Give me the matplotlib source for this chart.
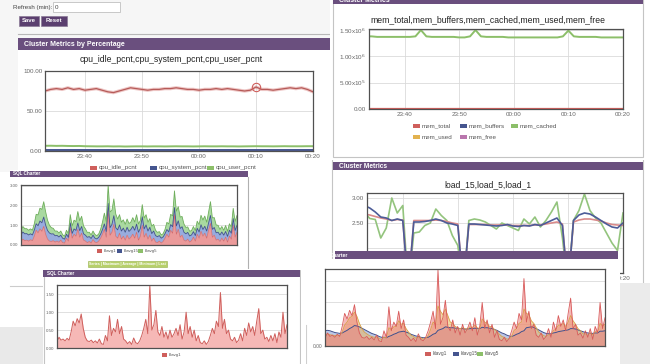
import numpy as np
import matplotlib.pyplot as plt
from matplotlib.patches import Rectangle

plt.rcParams['font.family'] = ['Liberation Sans', 'DejaVu Sans']

# ---- data ----
minutes = list(range(-27, 21))          # 0 = 00:00
time_ticks = [-20, -10, 0, 10, 20]
time_labels = ['23:40', '23:50', '00:00', '00:10', '00:20']

cpu_idle = [75, 77, 78, 77, 79, 77, 78, 76, 77, 78,
            76, 74, 73, 75, 77, 79, 78, 77, 76, 77,
            77, 78, 78, 79, 78, 77, 77, 76, 77, 77,
            78, 77, 78, 77, 76, 75, 76, 80, 77, 77,
            76, 77, 78, 79, 78, 79, 77, 74]
cpu_system = [1.2] * 48
cpu_user = [6.5, 6.6, 6.4, 6.5, 6.3, 6.2, 6.3, 6.0, 5.9, 5.8,
            5.8, 5.9, 5.7, 5.8, 5.6, 5.7, 5.8, 5.8, 5.7, 5.8,
            5.8, 5.7, 5.8, 5.9, 5.8, 5.8, 5.7, 5.8, 5.9, 5.8,
            5.8, 5.9, 5.8, 5.8, 5.7, 5.8, 5.9, 6.0, 5.9, 5.9,
            5.8, 5.9, 6.0, 5.9, 5.9, 5.9, 6.0, 6.0]

mem_cached = [1.38e6, 1.38e6, 1.37e6, 1.37e6, 1.37e6, 1.37e6, 1.37e6, 1.37e6, 1.37e6, 1.38e6,
              1.50e6, 1.38e6,
              1.37e6, 1.37e6, 1.37e6, 1.37e6, 1.37e6, 1.36e6, 1.36e6, 1.38e6,
              1.50e6, 1.38e6,
              1.37e6, 1.37e6, 1.37e6, 1.37e6, 1.36e6, 1.36e6, 1.36e6, 1.36e6,
              1.36e6, 1.36e6, 1.36e6, 1.36e6, 1.36e6, 1.36e6, 1.38e6,
              1.49e6, 1.38e6,
              1.37e6, 1.37e6, 1.37e6, 1.37e6, 1.36e6, 1.36e6, 1.36e6, 1.36e6, 1.36e6]
mem_total = [0.0] * 48

load_1 = [2.72, 2.59, 2.57, 2.20, 2.40, 3.00, 2.70, 2.85, 1.20, 2.30,
          2.32, 2.45, 2.50, 2.78, 2.65, 2.55, 2.25, 2.05, 1.20, 2.55,
          2.58, 2.56, 2.52, 2.45, 2.38, 2.50, 2.45, 2.40, 2.35, 2.58,
          2.48, 2.62, 2.42, 2.55, 2.72, 2.92, 2.20, 1.20, 2.55, 2.75,
          3.08, 2.75, 2.60, 2.50, 2.30, 2.10, 1.95, 2.70]
load_5 = [2.85, 2.80, 2.72, 2.62, 2.60, 2.55, 2.58, 2.55, 1.20, 2.52,
          2.52, 2.53, 2.55, 2.58, 2.55, 2.50, 2.48, 2.45, 1.20, 2.48,
          2.48, 2.47, 2.46, 2.45, 2.44, 2.45, 2.47, 2.44, 2.43, 2.45,
          2.44, 2.47, 2.45, 2.50, 2.55, 2.60, 2.45, 1.20, 2.55, 2.66,
          2.70, 2.68, 2.62, 2.55, 2.48, 2.42, 2.40, 2.50]
load_15 = [2.68, 2.66, 2.63, 2.60, 2.58, 2.55, 2.57, 2.56, 1.20, 2.55,
           2.55, 2.55, 2.55, 2.56, 2.55, 2.53, 2.50, 2.48, 1.20, 2.47,
           2.47, 2.47, 2.47, 2.46, 2.46, 2.46, 2.46, 2.45, 2.45, 2.45,
           2.45, 2.46, 2.46, 2.48, 2.50, 2.52, 2.48, 1.20, 2.52, 2.56,
           2.58, 2.58, 2.56, 2.54, 2.50, 2.47, 2.46, 2.45]

klavg1 = [0.18, 0.30, 0.22, 0.25, 0.20, 0.27, 0.22, 0.45, 0.75, 0.62,
          0.82, 0.70, 0.95, 0.55, 0.30, 0.20, 0.18, 0.22, 0.15, 0.20,
          0.14, 0.25, 0.12, 0.10, 0.35, 0.20, 0.90, 0.35, 0.55, 0.45,
          0.80, 0.40, 0.60, 0.25, 0.20, 0.12, 0.18, 0.10, 0.28, 0.15,
          0.12, 0.20, 0.35, 0.55, 0.80, 0.40, 1.75, 0.50, 0.65, 1.05,
          0.45, 0.35, 0.60, 0.30, 0.45, 0.25, 0.50, 0.30, 0.40, 0.55,
          0.35, 0.65, 0.25, 0.45, 1.00, 0.40, 0.60, 0.30, 0.50, 0.20,
          0.35, 0.15, 0.12, 0.20, 0.10, 0.18, 0.35, 0.55, 0.40, 0.75,
          0.60, 1.55, 0.55, 0.80, 0.40, 0.50, 0.25, 0.20, 0.30, 0.15,
          0.22, 0.40, 0.20, 0.55, 0.35, 0.70, 0.45, 0.60, 0.35, 0.75,
          1.10, 0.40, 0.50, 0.25, 0.30, 0.18, 0.35, 0.20, 0.40, 0.15,
          0.45, 0.30, 1.00, 0.40, 0.65]
klavg5 = [0.25, 0.28, 0.26, 0.25, 0.24, 0.25, 0.24,
          0.32, 0.48, 0.55, 0.65, 0.68, 0.78, 0.68, 0.52,
          0.40, 0.32, 0.28, 0.24, 0.22, 0.20, 0.21, 0.18, 0.15, 0.20, 0.19,
          0.42, 0.38, 0.44, 0.45, 0.58, 0.50, 0.52, 0.40,
          0.32, 0.25, 0.22, 0.18, 0.21, 0.19, 0.16, 0.17, 0.24,
          0.38, 0.55, 0.50, 0.92, 0.80, 0.72, 0.85, 0.70,
          0.55, 0.52, 0.45, 0.42, 0.40, 0.42, 0.40, 0.38, 0.44, 0.42,
          0.48, 0.42, 0.40, 0.62, 0.55, 0.52, 0.45, 0.44, 0.38, 0.34,
          0.27, 0.22, 0.20, 0.16, 0.16, 0.22,
          0.36, 0.40, 0.52, 0.55, 0.85, 0.75, 0.72, 0.58, 0.52,
          0.42, 0.32, 0.28, 0.24, 0.22, 0.26, 0.25,
          0.36, 0.38, 0.48, 0.48, 0.52, 0.45, 0.55, 0.70, 0.58,
          0.50, 0.40, 0.35, 0.28, 0.28, 0.25, 0.30, 0.26, 0.33, 0.32, 0.52, 0.46, 0.50]
klavg15 = [0.35, 0.36, 0.35, 0.33, 0.31, 0.30, 0.29,
           0.30, 0.33, 0.36, 0.40, 0.43, 0.47, 0.46, 0.44,
           0.41, 0.38, 0.35, 0.32, 0.29, 0.27, 0.25, 0.22, 0.20, 0.20, 0.19,
           0.22, 0.24, 0.27, 0.29, 0.32, 0.33, 0.34, 0.32,
           0.30, 0.27, 0.25, 0.23, 0.22, 0.20, 0.19, 0.19, 0.20,
           0.23, 0.27, 0.29, 0.36, 0.38, 0.40, 0.44, 0.43,
           0.42, 0.42, 0.41, 0.41, 0.40, 0.40, 0.39, 0.39, 0.40, 0.40,
           0.41, 0.40, 0.40, 0.43, 0.42, 0.42, 0.41, 0.40, 0.38, 0.36,
           0.33, 0.30, 0.28, 0.25, 0.23, 0.22,
           0.24, 0.27, 0.29, 0.33, 0.35, 0.42, 0.43, 0.44, 0.43,
           0.40, 0.37, 0.34, 0.31, 0.29, 0.28, 0.28,
           0.30, 0.31, 0.33, 0.34, 0.35, 0.36, 0.37, 0.40, 0.40,
           0.39, 0.37, 0.35, 0.33, 0.31, 0.30, 0.29, 0.29, 0.30, 0.30, 0.34, 0.34, 0.35]
samples = np.arange(len(klavg1))

# ---- colours ----
PURPLE = '#6a4f7e'
RED, BLUE, GREEN = '#cf5f5c', '#45558f', '#8cbf69'
YELLOW, PINK = '#e2b24f', '#b976ad'
GRIDC = '#dadada'

W, H = 650, 364
fig = plt.figure(figsize=(6.5, 3.64), dpi=100)
fig.patch.set_facecolor('white')


def box(x0, y0, x1, y1):
    return [x0 / W, 1 - y1 / H, (x1 - x0) / W, (y1 - y0) / H]


def panel(x0, y0, x1, y1, fc='white'):
    ax = fig.add_axes(box(x0, y0, x1, y1))
    ax.set_xlim(x0, x1)
    ax.set_ylim(y1, y0)
    ax.set_facecolor(fc)
    ax.set_xticks([])
    ax.set_yticks([])
    for s in ax.spines.values():
        s.set_visible(False)
    return ax


def header(ax, x0, y0, x1, y1, label, fs=5, tx=None, ty=None):
    r = Rectangle((x0, y0), x1 - x0, y1 - y0, fc=PURPLE, ec='none')
    ax.add_patch(r)
    t = ax.text(x0 + 6 if tx is None else tx, (y0 + y1) / 2 if ty is None else ty,
                label, color='white', fontsize=fs, fontweight='bold', va='center')
    t.set_clip_path(r)


def chart(x0, y0, x1, y1, fs=4.5):
    ax = fig.add_axes(box(x0, y0, x1, y1))
    ax.set_facecolor('white')
    ax.tick_params(length=0, labelsize=fs, colors='#666666', pad=2)
    for s in ax.spines.values():
        s.set_color('#505050')
        s.set_linewidth(0.9)
    ax.grid(True, color=GRIDC, lw=0.6)
    ax.set_axisbelow(True)
    return ax


def legend_item(ax, x, y, color, label, fs=4.5, sw=7):
    ax.add_patch(Rectangle((x, y - sw * 0.35), sw, sw * 0.7, fc=color, ec='none'))
    ax.text(x + sw + 2, y, label, fontsize=fs, color='#555555', va='center')


# ---- top-left: cpu ----
p1 = panel(0, 0, 330, 172, fc='#f6f6f6')
p1.add_patch(Rectangle((18, 50), 312, 122, fc='white', ec='none'))
p1.plot([18, 330], [34, 34], color='#b8b8b8', lw=0.8)
p1.add_patch(Rectangle((53, 2), 67, 10, fc='white', ec='#c0c0c0', lw=0.6))
p1.text(55, 7.5, '0', fontsize=4.5, color='#444444', va='center')
p1.text(52, 7.5, 'Refresh (min):', fontsize=4.5, color='#444444', va='center', ha='right')
for bx0, bx1, lab in [(19, 39, 'Save'), (41, 67, 'Reset')]:
    p1.add_patch(Rectangle((bx0, 16), bx1 - bx0, 10, fc='#5b3f6f', ec='#8a7a96', lw=0.5))
    p1.text((bx0 + bx1) / 2, 21, lab, fontsize=4.3, color='white', fontweight='bold',
            ha='center', va='center')
header(p1, 18, 38, 330, 50, 'Cluster Metrics by Percentage', fs=5)
p1.text(171, 60, 'cpu_idle_pcnt,cpu_system_pcnt,cpu_user_pcnt', fontsize=6.2,
        ha='center', va='center', color='#222222')
legend_item(p1, 90, 168, RED, 'cpu_idle_pcnt')
legend_item(p1, 150, 168, BLUE, 'cpu_system_pcnt')
legend_item(p1, 207, 168, GREEN, 'cpu_user_pcnt')

ax1 = chart(45, 71, 313, 151)
ax1.plot(minutes, cpu_idle, color=RED, lw=2.4, alpha=0.35)
ax1.plot(minutes, cpu_idle, color='#b65a58', lw=0.9)
ax1.plot(minutes, cpu_user, color=GREEN, lw=1.4)
ax1.plot(minutes, cpu_system, color=BLUE, lw=1.4)
ax1.plot([10], [cpu_idle[37]], 'o', ms=6, mfc='none', mec=RED, mew=0.8)
ax1.set_xlim(-27, 20)
ax1.set_ylim(0, 100)
ax1.set_yticks([0, 50, 100], ['0.00', '50.00', '100.00'])
ax1.set_xticks(time_ticks, time_labels)

# ---- top-right: memory ----
p2 = panel(330, 0, 650, 160)
p2.add_patch(Rectangle((333, -2), 310, 159, fc='white', ec='#c4c4c4', lw=0.8))
header(p2, 333, -6, 643, 4, 'Cluster Metrics', fs=5, ty=0.5)
p2.text(488, 20, 'mem_total,mem_buffers,mem_cached,mem_used,mem_free', fontsize=6.2,
        ha='center', va='center', color='#222222')
legend_item(p2, 413, 126, RED, 'mem_total')
legend_item(p2, 460, 126, BLUE, 'mem_buffers')
legend_item(p2, 511, 126, GREEN, 'mem_cached')
legend_item(p2, 413, 137, YELLOW, 'mem_used')
legend_item(p2, 460, 137, PINK, 'mem_free')

ax2 = chart(369, 29, 623, 109)
ax2.plot(minutes, mem_cached, color=GREEN, lw=1.4)
ax2.plot(minutes, mem_total, color=RED, lw=1.6)
ax2.set_xlim(-26.5, 20)
ax2.set_ylim(0, 1.52e6)
ax2.set_yticks([0, 5e5, 1e6, 1.5e6],
               ['0.00', '5.00x10$^5$', '1.00x10$^6$', '1.50x10$^6$'])
ax2.set_xticks(time_ticks, time_labels)

# ---- right-middle: load ----
p4 = panel(330, 160, 650, 290)
p4.add_patch(Rectangle((332, 158), 311, 140, fc='white', ec='#c4c4c4', lw=0.8))
header(p4, 333, 162, 643, 170, 'Cluster Metrics', fs=4.8)
p4.text(488, 185, 'load_15,load_5,load_1', fontsize=6.2, ha='center', va='center',
        color='#222222')

ax4 = chart(367, 193, 623, 273)
ax4.plot(minutes, load_1, color='#93c47d', lw=1.2)
ax4.plot(minutes, load_15, color='#d98a8a', lw=1.2)
ax4.plot(minutes, load_5, color='#4c5c98', lw=1.2)
ax4.set_xlim(-26.5, 20)
ax4.set_ylim(1.5, 3.1)
ax4.set_yticks([2.0, 2.5, 3.0], ['', '2.50', '3.00'])
ax4.set_xticks(time_ticks, time_labels)

# ---- left-middle: SQL charter (stacked) ----
p3 = panel(10, 170, 250, 269)
header(p3, 10, 171, 248, 177, 'SQL Charter', fs=3.3, tx=13)
p3.plot([248, 248], [177, 269], color='#b0b0b0', lw=0.8)
legend_item(p3, 97, 251, RED, 'klavg1', fs=3.2, sw=5)
legend_item(p3, 117, 251, BLUE, 'klavg15', fs=3.2, sw=5)
legend_item(p3, 138, 251, GREEN, 'klavg5', fs=3.2, sw=5)
p3.add_patch(Rectangle((88, 261), 79, 6, fc='#b7d06a', ec='#97b04a', lw=0.4))
p3.text(127.5, 264, 'Series | Maximum | Average | Minimum | Last', fontsize=2.6,
        color='white', fontweight='bold', ha='center', va='center')

ax3 = chart(21, 185, 237, 245, fs=3.2)
ax3.stackplot(samples, klavg1, klavg15, klavg5,
              colors=['#eb9a9a', '#98acde', '#a9d9a0'], lw=0)
s1 = np.array(klavg1)
s2 = s1 + np.array(klavg15)
s3 = s2 + np.array(klavg5)
ax3.plot(samples, s1, color='#d56a6a', lw=0.5)
ax3.plot(samples, s2, color='#3f4f8c', lw=0.6)
ax3.plot(samples, s3, color='#6fae5c', lw=0.6)
ax3.set_xlim(0, len(samples) - 1)
ax3.set_ylim(0, 3.05)
ax3.set_yticks([0, 1, 2, 3], ['0.00', '1.00', '2.00', '3.00'])
ax3.set_xticks([])
ax3.grid(axis='x', visible=False)

# ---- bottom-left: SQL charter klavg1 ----
p0 = panel(0, 269, 43, 327)
p0.plot([10, 43], [286, 286], color='#cccccc', lw=0.8)
pg = panel(0, 327, 43, 364, fc='#e9e9e9')

p5 = panel(43, 270, 301, 364)
p5.add_patch(Rectangle((43.5, 270), 256.5, 100, fc='white', ec='#c4c4c4', lw=0.8))
header(p5, 43, 270, 300, 277, 'SQL Charter', fs=3.3, tx=47)
legend_item(p5, 162, 355, RED, 'klavg1', fs=3.2, sw=5)

ax5 = chart(57, 285, 287, 348, fs=3.2)
ax5.fill_between(samples, 0, klavg1, color='#f6b8b6', lw=0)
ax5.plot(samples, klavg1, color='#cf5f5c', lw=0.7)
ax5.set_xlim(0, len(samples) - 1)
ax5.set_ylim(0, 1.76)
ax5.set_yticks([0, 0.5, 1.0, 1.5], ['0.00', '0.50', '1.00', '1.50'])
ax5.set_xticks([])
ax5.grid(axis='x', visible=False)

# ---- bottom-right: SQL charter overlaid ----
p6 = panel(306, 251, 620, 364, fc='none')
p6.add_patch(Rectangle((306, 259), 314, 106, fc='white', ec='none'))
p6.plot([306, 306], [325, 364], color='#cfcfcf', lw=0.8)
header(p6, 335, 251, 618, 259, 'SQL Charter', fs=3.6, tx=318)
legend_item(p6, 425, 354, RED, 'klavg1', fs=3.5, sw=6)
legend_item(p6, 453, 354, BLUE, 'klavg15', fs=3.5, sw=6)
legend_item(p6, 477, 354, GREEN, 'klavg5', fs=3.5, sw=6)

ax6 = chart(325, 269, 605, 346, fs=3.5)
ax6.fill_between(samples, 0, klavg15, color='#8fa3d8', alpha=0.6, lw=0)
ax6.fill_between(samples, 0, klavg5, color='#e9b860', alpha=0.55, lw=0)
ax6.fill_between(samples, 0, klavg1, color='#ee7f7f', alpha=0.55, lw=0)
ax6.plot(samples, klavg15, color='#3f4f8c', lw=0.7)
ax6.plot(samples, klavg5, color='#d9a24a', lw=0.6)
ax6.plot(samples, klavg1, color='#d85a5a', lw=0.6)
ax6.set_xlim(0, len(samples) - 1)
ax6.set_ylim(0, 1.77)
ax6.set_yticks([0, 0.5, 1.0, 1.5], ['0.00', '', '', ''])
ax6.set_xticks([])
ax6.grid(axis='x', visible=False)

# right grey block
pr = panel(620, 283, 650, 364, fc='#ebebeb')

fig.savefig('out.png', dpi=100)
